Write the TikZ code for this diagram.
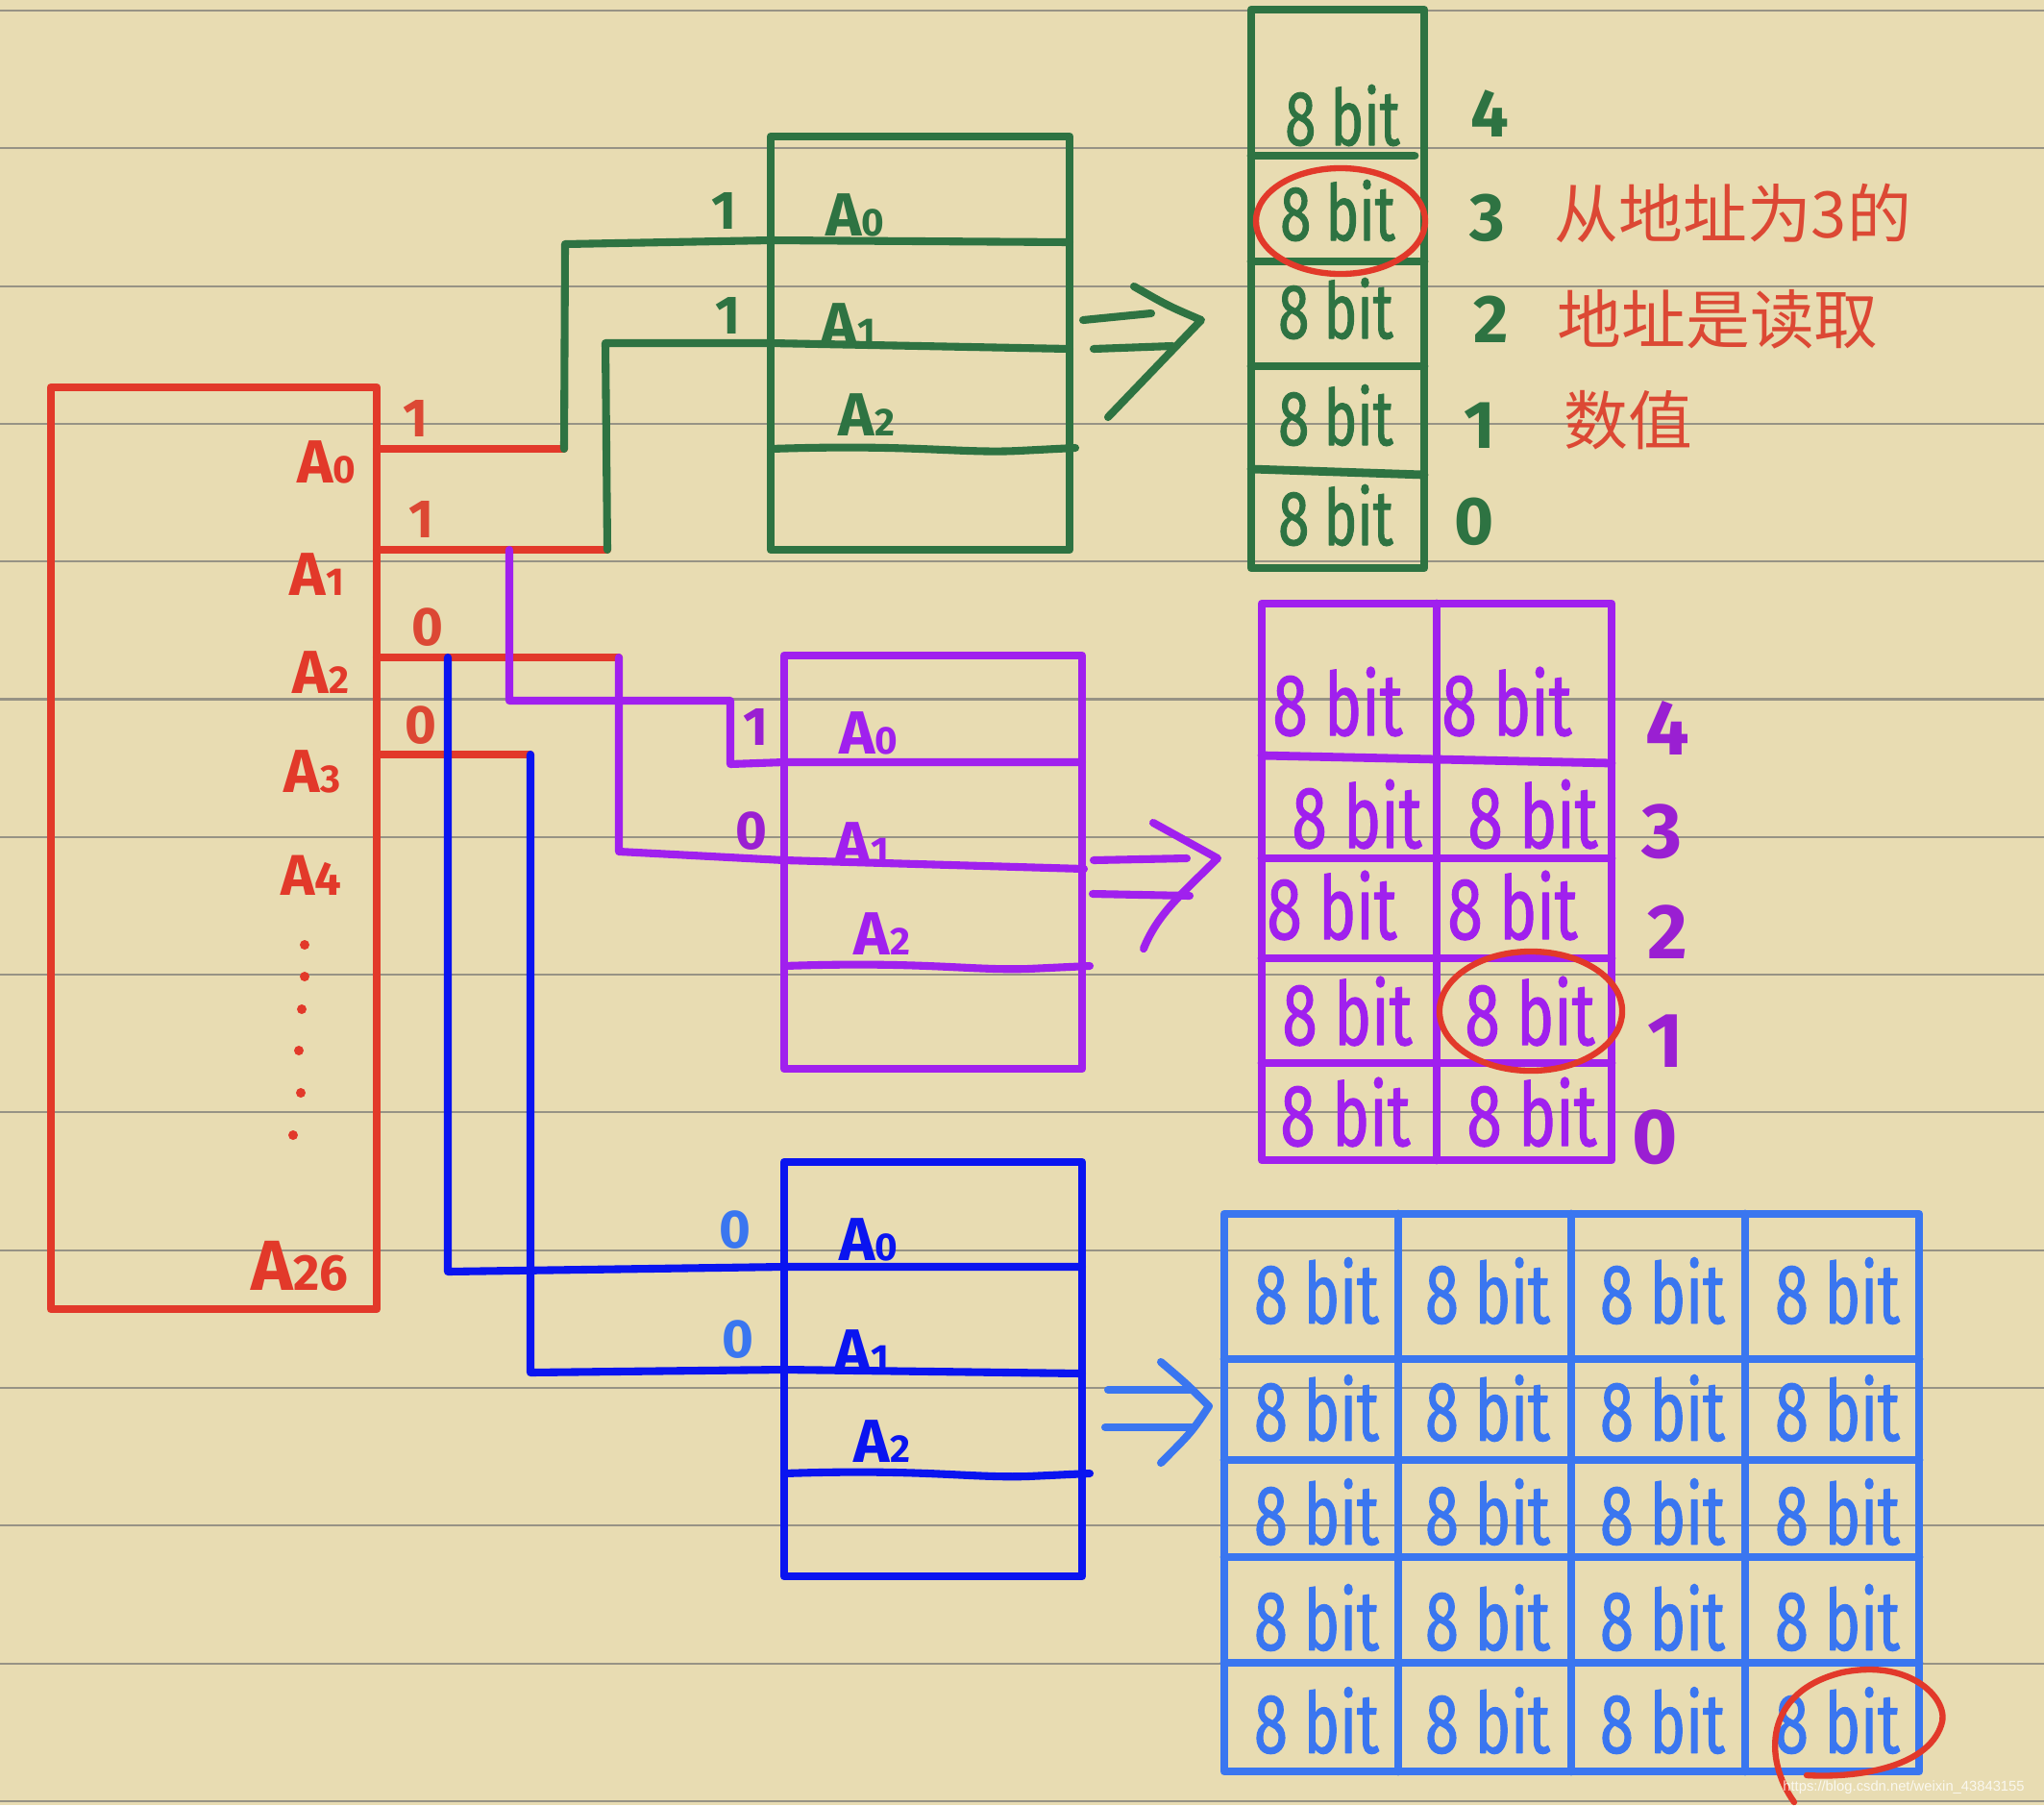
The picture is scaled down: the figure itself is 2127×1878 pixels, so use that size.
\documentclass[tikz,border=0pt]{standalone}
\usepackage{fontspec}
\setmainfont{Fira Sans}
\newfontfamily\hand[FakeStretch=0.72, FakeBold=1.2]{Fira Sans}
\newfontfamily\cjk{Noto Sans CJK SC}
\newfontfamily\wmfont{Liberation Sans}
\definecolor{paper}{HTML}{E8DCB2}
\definecolor{rulec}{HTML}{979385}
\definecolor{myred}{HTML}{E2392A}
\definecolor{lblred}{HTML}{DC4834}
\definecolor{mygreen}{HTML}{2E7342}
\definecolor{mypurple}{HTML}{A020EE}
\definecolor{lblpurple}{HTML}{9A1FD2}
\definecolor{mydblue}{HTML}{0A14F0}
\definecolor{mylblue}{HTML}{3A76F0}
\newcommand\Asub[1]{A{\fontsize{11.5pt}{11.5pt}\selectfont #1}}
\tikzset{
  boxpen/.style={line width=2.5pt},
  wirepen/.style={line width=2.3pt},
  circpen/.style={line width=1.8pt, myred},
  alab/.style={inner sep=0pt, font=\bfseries\fontsize{18pt}{18pt}\selectfont},
  vlab/.style={inner sep=0pt, font=\bfseries\fontsize{16pt}{16pt}\selectfont},
  numlab/.style={inner sep=0pt, font=\bfseries\fontsize{20pt}{20pt}\selectfont},
  pnumlab/.style={inner sep=0pt, font=\bfseries\fontsize{23pt}{23pt}\selectfont},
  gbit/.style={inner sep=0pt, text=mygreen, font=\hand\fontsize{23pt}{23pt}\selectfont},
  pbit/.style={inner sep=0pt, text=mypurple, font=\hand\fontsize{26pt}{26pt}\selectfont},
  bbit/.style={inner sep=0pt, text=mylblue, font=\hand\fontsize{25pt}{25pt}\selectfont},
  cjklab/.style={inner sep=0pt, anchor=west, text=lblred, font=\cjk\fontsize{19pt}{19pt}\selectfont},
}
\begin{document}
\begin{tikzpicture}[x=0.01cm, y=-0.01cm, line cap=round, line join=round]
\useasboundingbox (0,0) rectangle (2127,1878);
\fill[paper] (0,0) rectangle (2127,1878);
\foreach \i in {0,...,13}{\draw[rulec, line width=0.6pt] (0,{11+143.3*\i}) -- (2127,{11+143.3*\i});}

% ---------------- main red chip ----------------
\draw[boxpen, myred] (53,403) rectangle (392,1362);
\coordinate (rA0) at (392,467); \coordinate (rA1) at (392,572);
\coordinate (rA2) at (392,684); \coordinate (rA3) at (392,785);
\coordinate (gJ0) at (587,467); \coordinate (gJ1) at (632,572);
\coordinate (bJ2) at (644,684); \coordinate (bJ3) at (552,785);
\draw[wirepen, myred] (rA0) -- (gJ0);
\draw[wirepen, myred] (rA1) -- (gJ1);
\draw[wirepen, myred] (rA2) -- (bJ2);
\draw[wirepen, myred] (rA3) -- (bJ3);
\node[alab, text=myred] (tA0) at (340,481) {\Asub{0}};
\node[alab, text=myred] (tA1) at (330,598) {\Asub{1}};
\node[alab, text=myred] (tA2) at (334,700) {\Asub{2}};
\node[alab, text=myred] (tA3) at (325,803) {\Asub{3}};
\node[alab, text=myred, font=\bfseries\fontsize{17pt}{17pt}\selectfont] (tA4) at (324,911) {A{\fontsize{14pt}{14pt}\selectfont 4}};
\node[alab, text=myred, font=\bfseries\fontsize{21pt}{21pt}\selectfont] (tA26) at (312,1317) {A{\fontsize{15pt}{15pt}\selectfont 26}};
\foreach \p in {(317,983),(317,1016),(314,1050),(311,1093),(313,1137),(305,1181)}{\fill[myred] \p circle (0.05cm);}
\node[vlab, text=lblred] (v0) at (433,435) {1};
\node[vlab, text=lblred] (v1) at (439,540) {1};
\node[vlab, text=lblred] (v2) at (445,653) {0};
\node[vlab, text=lblred] (v3) at (438,755) {0};

% ---------------- green chip ----------------
\draw[boxpen, mygreen] (802,142) rectangle (1113,572);
\draw[wirepen, mygreen] (gJ0) -- (588,254) -- (802,250) -- (1113,252);
\draw[wirepen, mygreen] (gJ1) -- (630,357) -- (802,357) -- (1113,363);
\draw[wirepen, mygreen] (802,467) .. controls (950,462) and (1000,472) .. (1060,469) -- (1119,466);
\node[vlab, text=mygreen] (gv0) at (754,219) {1};
\node[vlab, text=mygreen] (gv1) at (758,328) {1};
\node[alab, text=mygreen] (gA0) at (890,224) {\Asub{0}};
\node[alab, text=mygreen] (gA1) at (883,338) {\Asub{1}};
\node[alab, text=mygreen] (gA2) at (902,432) {\Asub{2}};
% arrow
\draw[wirepen, mygreen] (1127,333) -- (1198,326);
\draw[wirepen, mygreen] (1138,363) -- (1220,360);
\draw[wirepen, mygreen] (1180,298) .. controls (1215,318) .. (1250,333) -- (1153,434);
% memory column
\draw[boxpen, mygreen] (1302,10) rectangle (1482,591);
\draw[boxpen, mygreen] (1302,162) -- (1472,162);
\draw[boxpen, mygreen] (1302,272) -- (1482,272);
\draw[boxpen, mygreen] (1302,381) -- (1482,381);
\draw[boxpen, mygreen] (1302,488) -- (1482,494);
\node[gbit] (gb4) at (1397,120) {8 bit};
\node[gbit] (gb3) at (1392,219) {8 bit};
\node[gbit] (gb2) at (1390,321) {8 bit};
\node[gbit] (gb1) at (1390,432) {8 bit};
\node[gbit] (gb0) at (1390,536) {8 bit};
\node[numlab, text=mygreen] (gn4) at (1550,118) {4};
\node[numlab, text=mygreen] (gn3) at (1548,227) {3};
\node[numlab, text=mygreen] (gn2) at (1552,332) {2};
\node[numlab, text=mygreen] (gn1) at (1540,443) {1};
\node[numlab, text=mygreen] (gn0) at (1534,543) {0};
\draw[circpen] (1395,230) ellipse [x radius=0.88cm, y radius=0.55cm];
\node[cjklab] (c1) at (1617,222) {从地址为3的};
\node[cjklab] (c2) at (1620,332) {地址是读取};
\node[cjklab] (c3) at (1627,437) {数值};

% ---------------- purple chip ----------------
\coordinate (pJ0) at (530,572);
\draw[boxpen, mypurple] (816,682) rectangle (1126,1112);
\draw[wirepen, mypurple] (pJ0) -- (530,729) -- (760,729) -- (760,795) -- (816,793) -- (1126,793);
\draw[wirepen, mypurple] (bJ2) -- (644,886) -- (816,895) -- (1128,904);
\draw[wirepen, mypurple] (816,1005) .. controls (960,1000) and (1010,1010) .. (1070,1008) -- (1134,1005);
\node[vlab, text=lblpurple] (pv0) at (787,756) {1};
\node[vlab, text=lblpurple] (pv1) at (782,865) {0};
\node[alab, text=mypurple] (pA0) at (904,763) {\Asub{0}};
\node[alab, text=mypurple] (pA1) at (897,878) {\Asub{1}};
\node[alab, text=mypurple] (pA2) at (918,972) {\Asub{2}};
\draw[wirepen, mypurple] (1138,895) -- (1235,893);
\draw[wirepen, mypurple] (1137,930) -- (1238,932);
\draw[wirepen, mypurple] (1200,856) -- (1267,893) .. controls (1230,930) and (1205,950) .. (1190,987);
% purple grid
\draw[boxpen, mypurple] (1313,628) rectangle (1677,1207);
\draw[boxpen, mypurple] (1495,628) -- (1495,1207);
\draw[boxpen, mypurple] (1313,786) -- (1677,794);
\draw[boxpen, mypurple] (1313,893) -- (1677,893);
\draw[boxpen, mypurple] (1313,997) -- (1677,997);
\draw[boxpen, mypurple] (1313,1106) -- (1677,1106);
\node[pbit] (pb40) at (1392,730) {8 bit};   \node[pbit] (pb41) at (1568,730) {8 bit};
\node[pbit] (pb30) at (1412,847) {8 bit};   \node[pbit] (pb31) at (1595,847) {8 bit};
\node[pbit] (pb20) at (1386,942) {8 bit};   \node[pbit] (pb21) at (1574,942) {8 bit};
\node[pbit] (pb10) at (1402,1052) {8 bit};  \node[pbit] (pb11) at (1592,1052) {8 bit};
\node[pbit] (pb00) at (1400,1157) {8 bit};  \node[pbit] (pb01) at (1594,1157) {8 bit};
\node[pnumlab, text=lblpurple] (pn4) at (1735,757) {4};
\node[pnumlab, text=lblpurple] (pn3) at (1730,865) {3};
\node[pnumlab, text=lblpurple] (pn2) at (1735,970) {2};
\node[pnumlab, text=lblpurple] (pn1) at (1733,1083) {1};
\node[pnumlab, text=lblpurple] (pn0) at (1722,1183) {0};
\draw[circpen] (1593,1052) ellipse [x radius=0.95cm, y radius=0.62cm];

% ---------------- blue chip ----------------
\coordinate (bK2) at (466,684);
\draw[boxpen, mydblue] (816,1209) rectangle (1126,1640);
\draw[wirepen, mydblue] (bK2) -- (466,1323) -- (816,1318) -- (1126,1318);
\draw[wirepen, mydblue] (bJ3) -- (552,1428) -- (816,1425) -- (1126,1429);
\draw[wirepen, mydblue] (816,1533) .. controls (960,1528) and (1010,1538) .. (1070,1536) -- (1134,1533);
\node[vlab, text=mylblue] (bv0) at (765,1280) {0};
\node[vlab, text=mylblue] (bv1) at (768,1394) {0};
\node[alab, text=mydblue] (bA0) at (904,1290) {\Asub{0}};
\node[alab, text=mydblue] (bA1) at (897,1406) {\Asub{1}};
\node[alab, text=mydblue] (bA2) at (918,1500) {\Asub{2}};
\draw[wirepen, mylblue] (1153,1446) -- (1240,1446);
\draw[wirepen, mylblue] (1150,1485) -- (1240,1485);
\draw[wirepen, mylblue] (1208,1417) .. controls (1235,1440) .. (1258,1463) .. controls (1240,1490) .. (1208,1522);
% blue grid
\draw[boxpen, mylblue] (1274,1263) rectangle (1997,1843);
\foreach \xx in {1455,1635,1816}{\draw[boxpen, mylblue] (\xx,1263) -- (\xx,1843);}
\foreach \yy in {1414,1519,1620,1730}{\draw[boxpen, mylblue] (1274,\yy) -- (1997,\yy);}
\foreach \yy [count=\r] in {1343,1465,1573,1683,1790}{
  \foreach \xx [count=\c] in {1370,1548,1730,1912}{
    \node[bbit] (bb\r\c) at (\xx,\yy) {8 bit};
  }
}
\draw[circpen] (1867,1875) .. controls (1835,1830) and (1835,1760) .. (1917,1740)
  .. controls (1990,1725) and (2030,1770) .. (2020,1795)
  .. controls (2005,1840) and (1930,1850) .. (1880,1847);

% watermark
\node[inner sep=0pt, text=white, opacity=0.8, font=\wmfont\fontsize{4.2pt}{5pt}\selectfont] (wm) at (1981,1860) {https://blog.csdn.net/weixin\_43843155};
\end{tikzpicture}
\end{document}
